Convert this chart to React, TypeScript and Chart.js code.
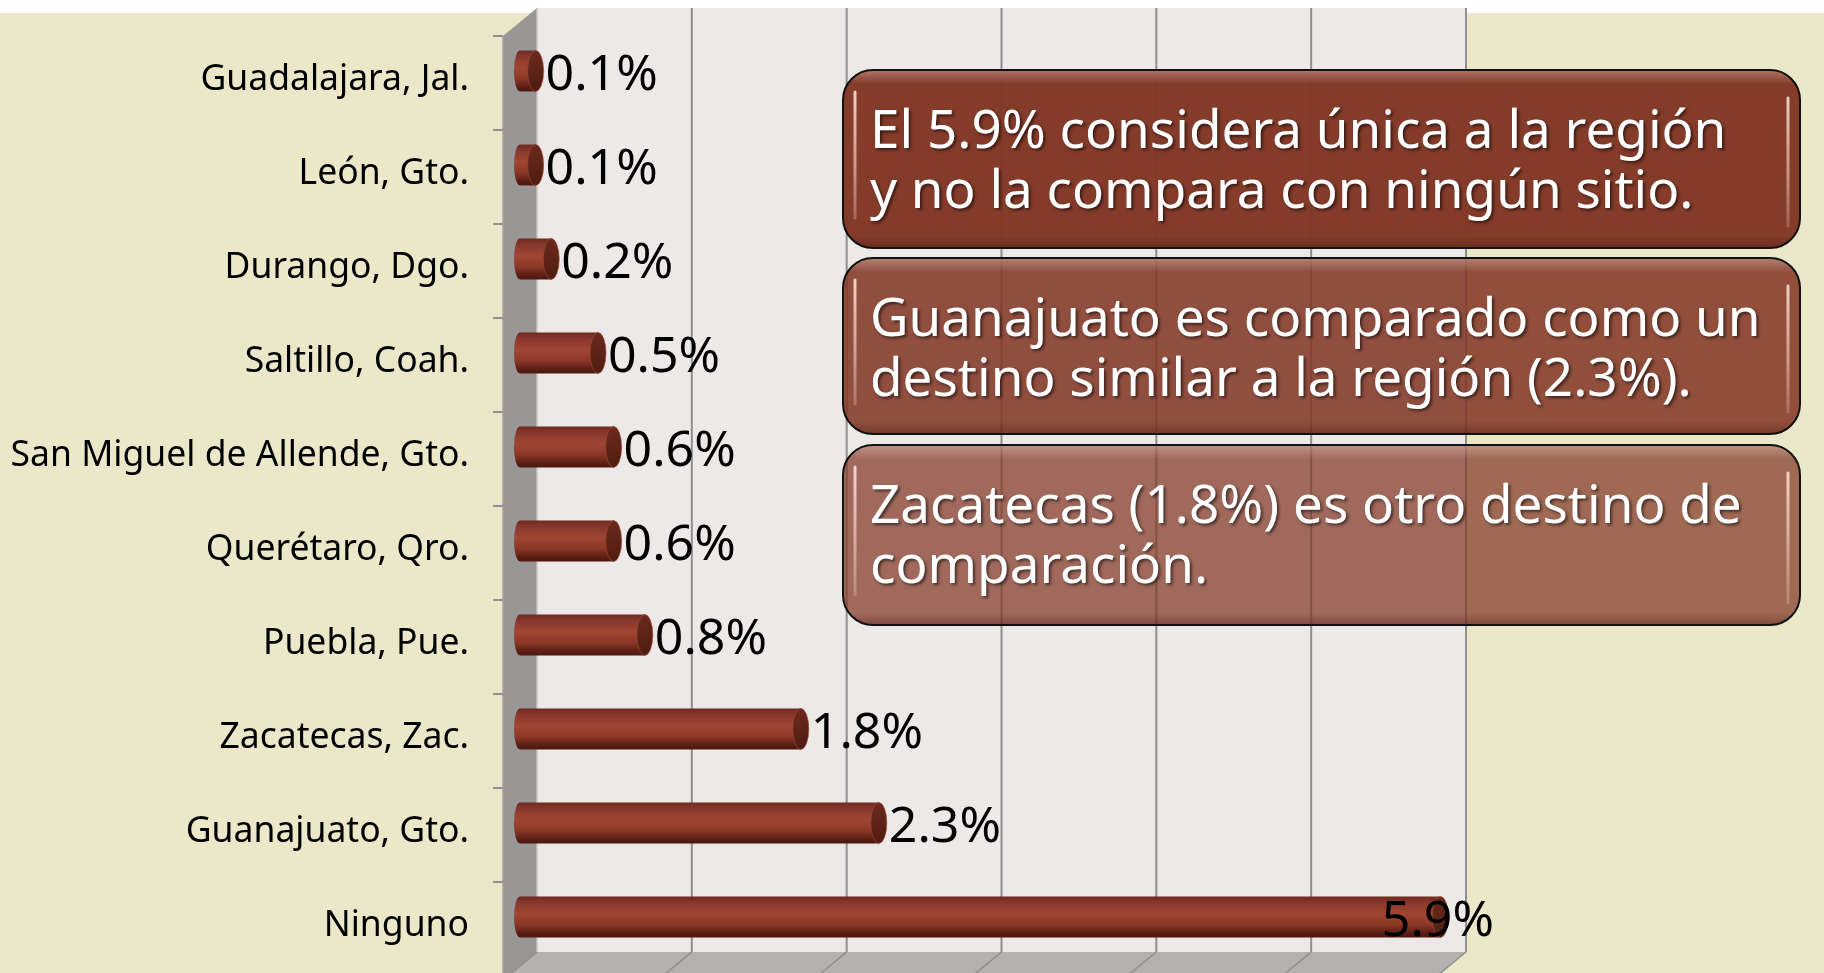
import React, { useEffect, useRef } from 'react';
import { Chart, registerables } from 'chart.js';

Chart.register(...registerables);

const categories = [
  'Guadalajara, Jal.',
  'León, Gto.',
  'Durango, Dgo.',
  'Saltillo, Coah.',
  'San Miguel de Allende, Gto.',
  'Querétaro, Qro.',
  'Puebla, Pue.',
  'Zacatecas, Zac.',
  'Guanajuato, Gto.',
  'Ninguno',
];
const values = [0.1, 0.1, 0.2, 0.5, 0.6, 0.6, 0.8, 1.8, 2.3, 5.9];
const gridValues = [0, 1, 2, 3, 4, 5, 6];
const noteLines = [
  ['El 5.9% considera única a la región', 'y no la compara con ningún sitio.'],
  ['Guanajuato es comparado como un', 'destino similar a la región (2.3%).'],
  ['Zacatecas (1.8%) es otro destino de', 'comparación.'],
];

const W = 1824;
const H = 973;
const FONT = "'Noto Sans', 'DejaVu Sans', sans-serif";
const BEIGE = '#EAE8C8';
const WALL = '#ECE9E8';
const SIDE = '#999696';
const FLOOR = '#B4B1AF';
const GRID = '#8F8F8F';
const BAR_PCT = 0.87;
const CAT_PCT = 0.5;

const boxes = [
  { x: 843, y: 70, w: 957, h: 178, alpha: 0.98 },
  { x: 843, y: 258, w: 957, h: 176, alpha: 0.87 },
  { x: 843, y: 445, w: 957, h: 180, alpha: 0.72 },
];

function barGradient(ctx: CanvasRenderingContext2D, top: number, bottom: number) {
  const g = ctx.createLinearGradient(0, top, 0, bottom);
  g.addColorStop(0, '#6E2A1C');
  g.addColorStop(0.12, '#84352A');
  g.addColorStop(0.42, '#A04533');
  g.addColorStop(0.68, '#8C3827');
  g.addColorStop(0.88, '#5E2014');
  g.addColorStop(1, '#4A170E');
  return g;
}

function geometry(chart: any) {
  const a = chart.chartArea;
  const L = a.left, R = a.right, T = a.top, B = a.bottom;
  return {
    L, R, T, B,
    fl: L - 17, ft: T + 12,
    bl: L + 17, bt: T - 16, bb: B - 12, br: R + 10,
    fdx: 34, fdy: 28,
  };
}

const scenePlugin = {
  id: 'scene',
  beforeDraw(chart: any) {
    const ctx: CanvasRenderingContext2D = chart.ctx;
    const g = geometry(chart);
    ctx.save();
    ctx.fillStyle = '#FFFFFF';
    ctx.fillRect(0, 0, W, H);
    ctx.fillStyle = BEIGE;
    ctx.fillRect(0, 13, W, H - 13);

    // back wall
    ctx.fillStyle = WALL;
    ctx.fillRect(g.bl, g.bt, g.br - g.bl, g.bb - g.bt);

    // floor
    ctx.fillStyle = FLOOR;
    ctx.beginPath();
    ctx.moveTo(g.bl, g.bb);
    ctx.lineTo(g.br, g.bb);
    ctx.lineTo(g.br - g.fdx, g.bb + g.fdy);
    ctx.lineTo(g.fl, g.bb + g.fdy);
    ctx.closePath();
    ctx.fill();

    // side wall
    ctx.fillStyle = SIDE;
    ctx.beginPath();
    ctx.moveTo(g.fl, g.ft);
    ctx.lineTo(g.bl, g.bt);
    ctx.lineTo(g.bl, g.bb);
    ctx.lineTo(g.fl, g.bb + g.fdy);
    ctx.closePath();
    ctx.fill();
    ctx.strokeStyle = '#A3A0A0';
    ctx.lineWidth = 1.5;
    ctx.beginPath();
    ctx.moveTo(g.fl, g.ft);
    ctx.lineTo(g.fl, H);
    ctx.stroke();
    ctx.strokeStyle = '#C8C6C5';
    ctx.beginPath();
    ctx.moveTo(g.bl, g.bt);
    ctx.lineTo(g.bl, g.bb);
    ctx.stroke();

    // gridlines (back wall) and floor diagonals
    const xs = chart.scales.x;
    gridValues.forEach((v) => {
      const px = xs.getPixelForValue(v);
      const xb = g.bl + ((px - g.L) * (g.br - g.bl)) / (g.R - g.L);
      ctx.strokeStyle = GRID;
      if (v > 0) {
        ctx.lineWidth = 2;
        ctx.beginPath();
        ctx.moveTo(xb, g.bt);
        ctx.lineTo(xb, g.bb);
        ctx.stroke();
      }
      ctx.lineWidth = 1.5;
      ctx.beginPath();
      ctx.moveTo(xb, g.bb);
      ctx.lineTo(xb - g.fdx, g.bb + g.fdy);
      ctx.stroke();
    });

    // category tick marks on the front edge of the side wall
    const ys = chart.scales.y;
    const band = (g.B - g.T) / categories.length;
    ctx.strokeStyle = GRID;
    ctx.lineWidth = 2;
    for (let i = 0; i <= categories.length; i++) {
      const yc = (i < categories.length ? ys.getPixelForValue(i) : ys.getPixelForValue(i - 1) + band) - band / 2;
      const yy = yc + (g.ft - g.T);
      ctx.beginPath();
      ctx.moveTo(g.fl - 10, yy);
      ctx.lineTo(g.fl, yy);
      ctx.stroke();
    }
    ctx.restore();
  },
  afterDatasetsDraw(chart: any) {
    const ctx: CanvasRenderingContext2D = chart.ctx;
    const meta = chart.getDatasetMeta(0);
    const area = chart.chartArea;
    ctx.save();
    meta.data.forEach((el: any, i: number) => {
      const p = el.getProps(['x', 'y', 'base', 'height'], true);
      const top = p.y - p.height / 2;
      const bottom = p.y + p.height / 2;
      const ry = p.height / 2;
      // left rounded end
      ctx.fillStyle = barGradient(ctx, top, bottom);
      ctx.beginPath();
      ctx.ellipse(p.base, p.y, 6, ry, 0, Math.PI / 2, (Math.PI * 3) / 2);
      ctx.fill();
      // end face
      const eg = ctx.createLinearGradient(p.x - 8, top, p.x + 8, bottom);
      eg.addColorStop(0, '#6C2A1D');
      eg.addColorStop(0.5, '#5E2317');
      eg.addColorStop(1, '#4C1A10');
      ctx.fillStyle = eg;
      ctx.beginPath();
      ctx.ellipse(p.x, p.y, 8, ry, 0, 0, Math.PI * 2);
      ctx.fill();
      ctx.strokeStyle = 'rgba(150,70,50,0.7)';
      ctx.lineWidth = 1;
      ctx.stroke();

      // data label
      const label = values[i].toFixed(1) + '%';
      ctx.font = `50px ${FONT}`;
      ctx.fillStyle = '#000000';
      ctx.textBaseline = 'middle';
      ctx.textAlign = 'left';
      const tw = ctx.measureText(label).width;
      const lx = Math.min(p.x + 10, area.right + 38 - tw);
      ctx.fillText(label, lx, p.y + 5);
    });
    ctx.restore();
  },
  afterDraw(chart: any) {
    const ctx: CanvasRenderingContext2D = chart.ctx;
    ctx.save();
    boxes.forEach((b, bi) => {
      const r = 30;
      ctx.beginPath();
      ctx.roundRect(b.x, b.y, b.w, b.h, r);
      ctx.fillStyle = `rgba(130,55,38,${b.alpha})`;
      ctx.fill();

      // bevel shading
      ctx.save();
      ctx.clip();
      const tg = ctx.createLinearGradient(0, b.y, 0, b.y + 14);
      tg.addColorStop(0, 'rgba(255,230,220,0.35)');
      tg.addColorStop(1, 'rgba(255,230,220,0)');
      ctx.fillStyle = tg;
      ctx.fillRect(b.x, b.y, b.w, 14);
      const bg = ctx.createLinearGradient(0, b.y + b.h - 12, 0, b.y + b.h);
      bg.addColorStop(0, 'rgba(60,15,10,0)');
      bg.addColorStop(1, 'rgba(60,15,10,0.35)');
      ctx.fillStyle = bg;
      ctx.fillRect(b.x, b.y + b.h - 12, b.w, 12);
      // gloss highlights on the sides
      ctx.lineCap = 'round';
      ctx.lineWidth = 3;
      const hg = ctx.createLinearGradient(0, b.y + 15, 0, b.y + b.h - 15);
      hg.addColorStop(0, 'rgba(255,230,220,0.9)');
      hg.addColorStop(0.6, 'rgba(255,215,205,0.55)');
      hg.addColorStop(1, 'rgba(255,215,205,0.2)');
      ctx.strokeStyle = hg;
      ctx.beginPath();
      ctx.moveTo(b.x + 12, b.y + 22);
      ctx.lineTo(b.x + 12, b.y + b.h - 30);
      ctx.stroke();
      ctx.beginPath();
      ctx.moveTo(b.x + b.w - 12, b.y + 28);
      ctx.lineTo(b.x + b.w - 12, b.y + b.h - 22);
      ctx.stroke();
      ctx.restore();

      ctx.beginPath();
      ctx.roundRect(b.x, b.y, b.w, b.h, r);
      ctx.strokeStyle = '#111111';
      ctx.lineWidth = 2;
      ctx.stroke();

      // text
      ctx.save();
      ctx.font = `53px ${FONT}`;
      ctx.fillStyle = '#FFFFFF';
      ctx.textAlign = 'left';
      ctx.textBaseline = 'alphabetic';
      ctx.shadowColor = 'rgba(0,0,0,0.55)';
      ctx.shadowOffsetX = 2;
      ctx.shadowOffsetY = 2;
      ctx.shadowBlur = 3;
      noteLines[bi].forEach((line, li) => {
        ctx.fillText(line, b.x + 27, b.y + 78 + li * 60);
      });
      ctx.restore();
    });
    ctx.restore();
  },
};

export default function App() {
  const ref = useRef<HTMLCanvasElement | null>(null);

  useEffect(() => {
    document.body.style.margin = '0';
    const canvas = ref.current;
    if (!canvas) return;
    const chart = new Chart(canvas, {
      type: 'bar',
      data: {
        labels: categories,
        datasets: [
          {
            data: values,
            barPercentage: BAR_PCT,
            categoryPercentage: CAT_PCT,
            borderWidth: 0,
            backgroundColor: (c: any) => {
              const ch = c.chart;
              const area = ch.chartArea;
              if (!area || !ch.scales.y) return '#8C3827';
              const band = ((area.bottom - area.top) / categories.length) * BAR_PCT * CAT_PCT;
              const yc = ch.scales.y.getPixelForValue(c.dataIndex);
              return barGradient(ch.ctx, yc - band / 2, yc + band / 2);
            },
          },
        ],
      },
      options: {
        indexAxis: 'y',
        animation: false,
        responsive: false,
        devicePixelRatio: 1,
        layout: { padding: { top: 24, bottom: 9, left: 0, right: 368 } },
        plugins: {
          legend: { display: false },
          tooltip: { enabled: false },
          title: { display: false },
        },
        scales: {
          x: {
            type: 'linear',
            min: 0,
            max: 6,
            display: false,
          },
          y: {
            type: 'category',
            position: 'left',
            grid: { display: false, drawTicks: false },
            border: { display: false },
            ticks: {
              color: '#000000',
              font: { family: FONT, size: 35.5 },
              padding: 51,
              labelOffset: 9,
              autoSkip: false,
            },
            afterFit: (scale: any) => {
              scale.width = 520;
              scale.paddingTop = 0;
              scale.paddingBottom = 0;
            },
          },
        },
      },
      plugins: [scenePlugin],
    });
    return () => chart.destroy();
  }, []);

  return (
    <div style={{ position: 'absolute', left: 0, top: 0, width: W, height: H }}>
      <canvas ref={ref} width={W} height={H} style={{ display: 'block', width: W, height: H }} />
    </div>
  );
}
